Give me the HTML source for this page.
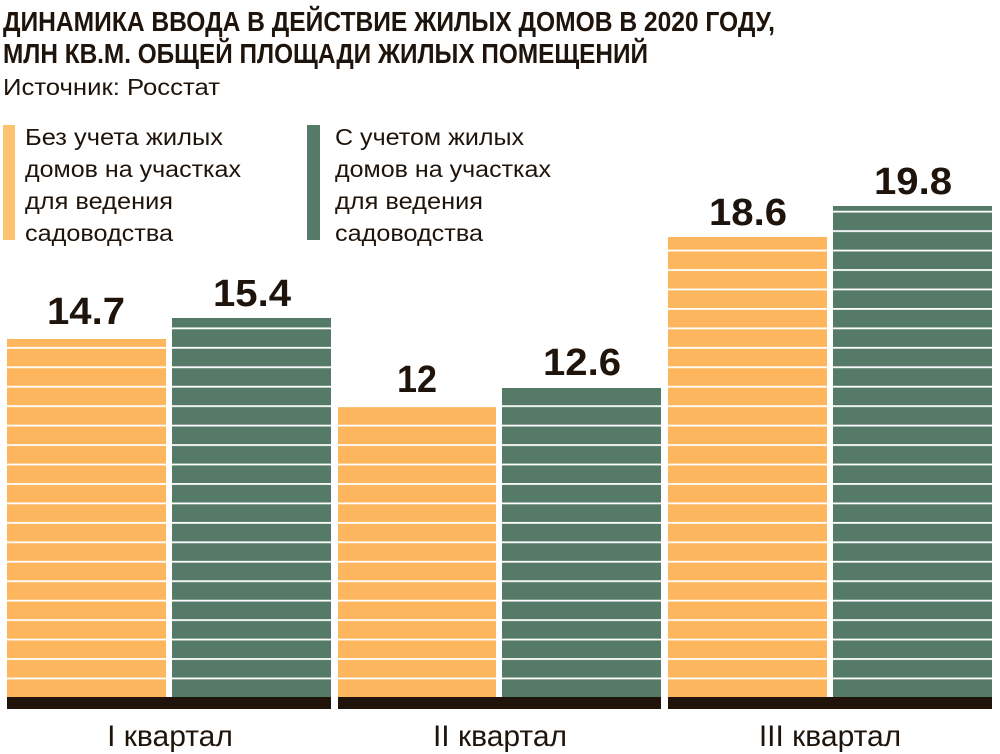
<!DOCTYPE html>
<html><head><meta charset="utf-8"><style>
body{margin:0;background:#fff;}
svg{display:block;}
</style></head><body>
<svg width="1000" height="754" xmlns="http://www.w3.org/2000/svg">
<defs>
<pattern id="po" patternUnits="userSpaceOnUse" x="0" y="697" width="10" height="19.45">
<rect width="10" height="19.45" fill="#fdb65d"/><rect y="0" width="10" height="1.8" fill="#fff"/>
</pattern>
<pattern id="pg" patternUnits="userSpaceOnUse" x="0" y="697" width="10" height="19.45">
<rect width="10" height="19.45" fill="#557b68"/><rect y="0" width="10" height="1.8" fill="#fff"/>
</pattern>
</defs>
<g font-family="Liberation Sans, sans-serif" fill="#1e140c">
<text x="3" y="31" font-size="28" font-weight="bold" textLength="772" lengthAdjust="spacingAndGlyphs">ДИНАМИКА ВВОДА В ДЕЙСТВИЕ ЖИЛЫХ ДОМОВ В 2020 ГОДУ,</text>
<text x="3" y="63" font-size="28" font-weight="bold" textLength="645" lengthAdjust="spacingAndGlyphs">МЛН КВ.М. ОБЩЕЙ ПЛОЩАДИ ЖИЛЫХ ПОМЕЩЕНИЙ</text>
<text x="3" y="95" font-size="23" textLength="217" lengthAdjust="spacingAndGlyphs">Источник: Росстат</text>
<g font-size="23">
<text x="25" y="145" textLength="198" lengthAdjust="spacingAndGlyphs">Без учета жилых</text>
<text x="25" y="177" textLength="216" lengthAdjust="spacingAndGlyphs">домов на участках</text>
<text x="25" y="209" textLength="148" lengthAdjust="spacingAndGlyphs">для ведения</text>
<text x="25" y="241" textLength="148" lengthAdjust="spacingAndGlyphs">садоводства</text>
<text x="335" y="145" textLength="189" lengthAdjust="spacingAndGlyphs">С учетом жилых</text>
<text x="335" y="177" textLength="216" lengthAdjust="spacingAndGlyphs">домов на участках</text>
<text x="335" y="209" textLength="148" lengthAdjust="spacingAndGlyphs">для ведения</text>
<text x="335" y="241" textLength="148" lengthAdjust="spacingAndGlyphs">садоводства</text>
</g>
</g>
<rect x="3" y="125" width="12" height="115" fill="#fdc36f"/>
<rect x="307" y="125" width="13" height="115" fill="#557b68"/>

<rect x="7" y="339" width="159" height="358" fill="url(#po)"/>
<rect x="172" y="318" width="159" height="379" fill="url(#pg)"/>
<rect x="338" y="407" width="158" height="290" fill="url(#po)"/>
<rect x="502" y="388" width="159" height="309" fill="url(#pg)"/>
<rect x="668" y="237" width="159" height="460" fill="url(#po)"/>
<rect x="833" y="206" width="159" height="491" fill="url(#pg)"/>

<rect x="7" y="697" width="324" height="12" fill="#20140a"/>
<rect x="338" y="697" width="323" height="12" fill="#20140a"/>
<rect x="668" y="697" width="324" height="12" fill="#20140a"/>

<g font-family="Liberation Sans, sans-serif" font-weight="bold" font-size="38" fill="#1e140c" text-anchor="middle">
<text x="86" y="324" textLength="78" lengthAdjust="spacingAndGlyphs">14.7</text>
<text x="252" y="306" textLength="78" lengthAdjust="spacingAndGlyphs">15.4</text>
<text x="417" y="392" textLength="40" lengthAdjust="spacingAndGlyphs">12</text>
<text x="582" y="375" textLength="78" lengthAdjust="spacingAndGlyphs">12.6</text>
<text x="748" y="225" textLength="78" lengthAdjust="spacingAndGlyphs">18.6</text>
<text x="913" y="194" textLength="78" lengthAdjust="spacingAndGlyphs">19.8</text>
</g>
<g font-family="Liberation Sans, sans-serif" font-size="30" fill="#1e140c" text-anchor="middle">
<text x="170" y="746">I квартал</text>
<text x="500" y="746">II квартал</text>
<text x="830" y="746">III квартал</text>
</g>
</svg>
</body></html>
